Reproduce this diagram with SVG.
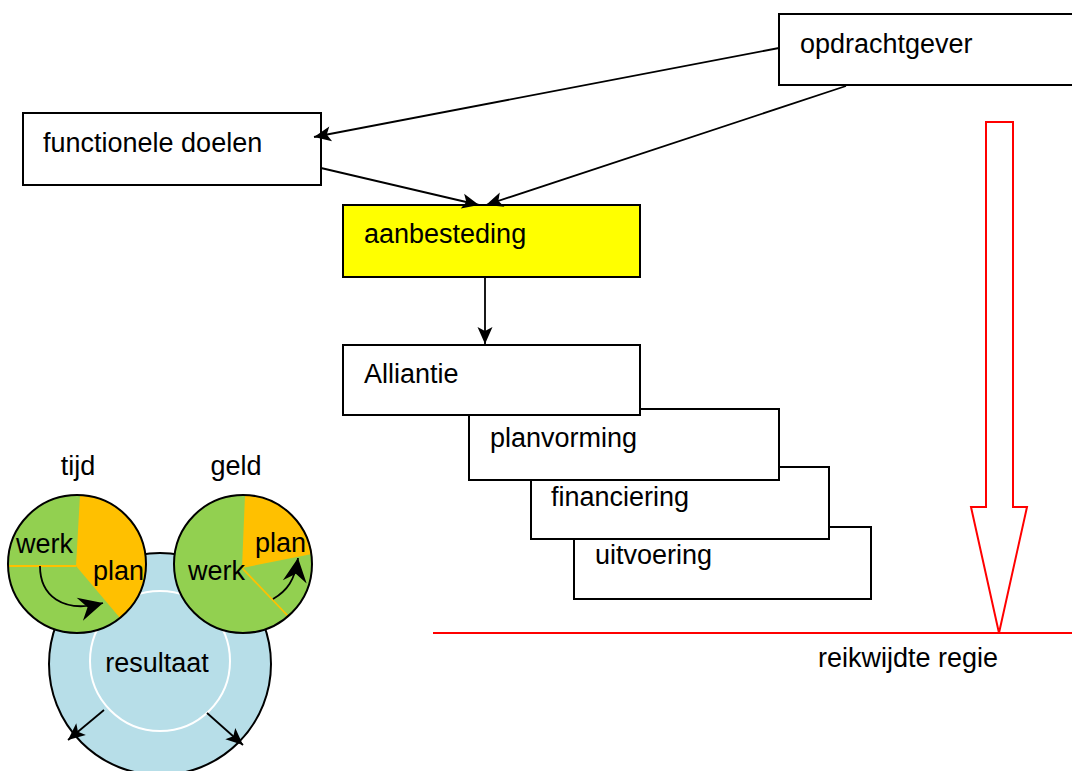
<svg xmlns="http://www.w3.org/2000/svg" width="1072" height="771" viewBox="0 0 1072 771">
<style>
text{font-family:"Liberation Sans",Arial,sans-serif;font-size:27px;fill:#000}
.box{fill:#fff;stroke:#000;stroke-width:2}
.con{stroke:#000;stroke-width:1.8;fill:none}
.green{fill:#92D050}
.orange{fill:#FFC000}
.oline{stroke:#FFC000;stroke-width:1.8}
</style>
<defs>
<marker id="ah" markerUnits="userSpaceOnUse" viewBox="-19 -9 20 18" refX="0" refY="0" markerWidth="20" markerHeight="18" orient="auto">
<path d="M0,0 L-17,-7.5 L-13,0 L-17,7.5 Z" fill="#000"/>
</marker>
<marker id="big" markerUnits="userSpaceOnUse" viewBox="-26 -14 27 28" refX="0" refY="0" markerWidth="27" markerHeight="28" orient="auto">
<path d="M0,0 L-24,-12 L-16,0 L-24,12 Z" fill="#000"/>
</marker>
</defs>

<g id="opdrachtgever"><rect class="box" x="779" y="14" width="300" height="71"/><text x="800" y="53">opdrachtgever</text></g>
<g id="functionele-doelen"><rect class="box" x="23" y="113" width="298" height="72"/><text x="43" y="152">functionele doelen</text></g>
<g id="aanbesteding"><rect x="343" y="205" width="297" height="72" fill="#FFFF00" stroke="#000" stroke-width="2"/><text x="364" y="243">aanbesteding</text></g>
<g id="uitvoering"><rect class="box" x="574" y="527" width="297" height="72"/><text x="595" y="564">uitvoering</text></g>
<g id="financiering"><rect class="box" x="531" y="467" width="298" height="72"/><text x="551" y="506">financiering</text></g>
<g id="planvorming"><rect class="box" x="469" y="409" width="310" height="71"/><text x="490" y="447">planvorming</text></g>
<g id="alliantie"><rect class="box" x="343" y="345" width="297" height="70"/><text x="364" y="383">Alliantie</text></g>

<g id="connectors">
<line class="con" x1="779" y1="48" x2="314" y2="137" marker-end="url(#ah)"/>
<line class="con" x1="846" y1="86" x2="486" y2="205" marker-end="url(#ah)"/>
<line class="con" x1="321" y1="168" x2="479" y2="205" marker-end="url(#ah)"/>
<line class="con" x1="485" y1="277" x2="485" y2="344" marker-end="url(#ah)"/>
</g>

<g id="regie">
<polygon points="986,122 1013,122 1013,507 1027,507 999,633 971,507 986,507" fill="#fff" stroke="#FF0000" stroke-width="2"/>
<line x1="433" y1="633" x2="1072" y2="633" stroke="#FF0000" stroke-width="2"/>
<text x="818" y="667">reikwijdte regie</text>
</g>

<g id="resultaat">
<circle cx="160" cy="664" r="111" fill="#B7DEE8" stroke="#000" stroke-width="2"/>
<circle cx="160" cy="661" r="70" fill="none" stroke="#fff" stroke-width="2"/>
<text x="157" y="672" text-anchor="middle">resultaat</text>
<line class="con" x1="104" y1="710" x2="68" y2="740" marker-end="url(#ah)"/>
<line class="con" x1="207" y1="713" x2="243" y2="745" marker-end="url(#ah)"/>
</g>

<g id="tijd">
<text x="78" y="475" text-anchor="middle">tijd</text>
<circle class="green" cx="77" cy="564" r="69"/>
<path class="orange" d="M76,566 L80,495 A69,69 0 0,1 120,618 Z"/>
<line class="oline" x1="9" y1="566" x2="76" y2="566"/>
<circle cx="77" cy="564" r="69" fill="none" stroke="#000" stroke-width="2"/>
<text x="16" y="553">werk</text>
<text x="93" y="580">plan</text>
<path class="con" d="M40,566 C40,595 62,614 103,603" marker-end="url(#big)"/>
</g>

<g id="geld">
<text x="236" y="475" text-anchor="middle">geld</text>
<circle class="green" cx="243" cy="564" r="69"/>
<path class="orange" d="M242,568 L245,495 A69,69 0 0,1 312,554 Z"/>
<line class="oline" x1="242" y1="568" x2="288" y2="616"/>
<circle cx="243" cy="564" r="69" fill="none" stroke="#000" stroke-width="2"/>
<text x="255" y="552">plan</text>
<text x="188" y="580">werk</text>
<path class="con" d="M273,599 C287,591 295,580 298,558" marker-end="url(#big)"/>
</g>
</svg>
